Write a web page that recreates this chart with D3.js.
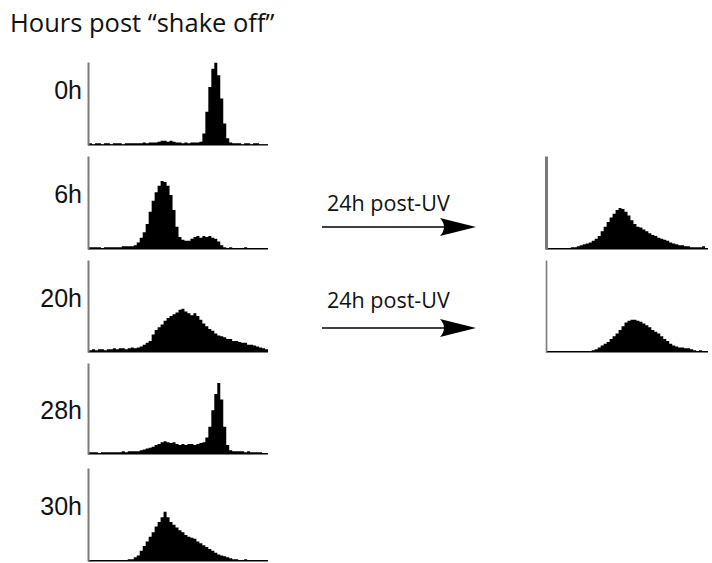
<!DOCTYPE html>
<html>
<head>
<meta charset="utf-8">
<script src="https://cdn.jsdelivr.net/npm/d3@7/dist/d3.min.js"></script>
<style>
  html, body { margin: 0; padding: 0; background: #fff; }
  svg { display: block; }
</style>
</head>
<body>
<svg id="chart" width="712" height="563"></svg>
<script>
// ---- Data (percent of panel height per channel bin) ----
const title = "Hours post \u201Cshake off\u201D";
const timeLabels = ["0h", "6h", "20h", "28h", "30h"];
const arrowLabel = "24h post-UV";

const h0 = [2,1,2,2,1,2,2,1,2,2,2,1,2,2,2,2,2,2,3,2,
            3,3,3,4,5,5,4,5,4,3,3,2,3,2,3,3,3,
            4,14,40,70,92,99,84,56,26,8,3,
            2,2,2,1,2,2,1,2,2,1,1,1];
const h6 = [2,2,2,2,1,2,2,2,2,2,2,3,3,3,3,4,7,12,18,27,
            40,52,61,68,73,72,68,58,42,24,13,10,9,9,11,13,14,12,14,13,
            14,12,11,8,4,2,1,2,1,1,1,1,2,1,1,1,1,1,1,1];
const h20 = [2,3,2,3,3,2,3,3,4,3,4,4,3,4,5,4,5,6,8,10,
             12,19,24,27,30,34,37,39,41,43,46,47,44,42,40,42,39,35,31,28,
             25,23,20,18,17,16,14,14,12,12,11,10,10,8,8,7,6,5,4,3];
const h28 = [2,2,2,1,2,2,2,2,2,2,2,3,2,3,3,3,3,4,5,6,
             7,8,10,11,13,14,13,12,13,11,10,11,10,11,11,10,11,12,13,18,
             30,48,66,78,60,30,10,4,3,3,3,3,2,3,2,2,2,2,1,1];
const h30 = [1,1,1,1,1,1,1,1,1,1,1,1,1,2,2,4,6,11,16,21,
             26,31,37,42,47,53,47,42,39,36,33,31,28,26,25,24,21,19,17,15,
             13,11,9,7,6,5,4,3,2,2,1,1,2,1,1,1,1,1,1,1];
const uv6 = [1,1,1,1,1,1,1,1,2,2,3,4,5,6,7,9,11,14,19,24,
             29,34,38,42,44,43,40,36,31,27,24,23,21,19,17,15,14,12,11,10,
             9,7,6,5,4,4,3,3,2,2,2,2,3,1];
const uv20 = [1,1,1,1,1,1,1,1,1,1,1,1,1,1,1,2,3,5,7,9,
              11,14,17,20,24,28,32,34,35,35,34,33,31,29,27,24,22,20,17,14,
              12,9,7,6,5,5,4,4,3,2,1,2,1,1];

// ---- Layout ----
const svg = d3.select("#chart");

const panels = [
  {data: h0,  x0: 88,  w: 180, top: 62,  base: 145, label: timeLabels[0], ly: 99,  axisW: 2},
  {data: h6,  x0: 88,  w: 180, top: 156, base: 249, label: timeLabels[1], ly: 203, axisW: 2},
  {data: h20, x0: 88,  w: 180, top: 260, base: 352, label: timeLabels[2], ly: 307, axisW: 2},
  {data: h28, x0: 88,  w: 180, top: 363, base: 454, label: timeLabels[3], ly: 419, axisW: 2},
  {data: h30, x0: 88,  w: 180, top: 468, base: 561, label: timeLabels[4], ly: 515, axisW: 2},
  {data: uv6, x0: 546, w: 162, top: 156, base: 249, label: null, axisW: 3},
  {data: uv20,x0: 546, w: 162, top: 260, base: 352, label: null, axisW: 1.6}
];

panels.forEach(p => {
  const n = p.data.length;
  const x = d3.scaleLinear().domain([0, n]).range([p.x0 + 1, p.x0 + p.w]);
  const y = d3.scaleLinear().domain([0, 100]).range([p.base, p.top]);
  const g = svg.append("g");

  const pts = p.data.map((v, i) => [i, v]).concat([[n, p.data[n - 1]]]);
  const area = d3.area()
    .x(d => x(d[0]))
    .y0(y(0))
    .y1(d => y(d[1]))
    .curve(d3.curveStepAfter);
  g.append("path").attr("d", area(pts)).attr("fill", "#000");

  // baseline
  g.append("line")
    .attr("x1", p.x0).attr("x2", p.x0 + p.w)
    .attr("y1", p.base).attr("y2", p.base)
    .attr("stroke", "#000").attr("stroke-width", 1.2);

  // left axis
  const yAxis = d3.axisLeft(y).tickValues([]).tickSizeOuter(0);
  const ag = g.append("g").attr("transform", `translate(${p.x0},0)`).call(yAxis);
  ag.select(".domain").attr("stroke", "#7a7a7a").attr("stroke-width", p.axisW);

  if (p.label) {
    g.append("text")
      .attr("x", 82).attr("y", p.ly)
      .attr("text-anchor", "end")
      .attr("font-family", "Liberation Sans, Arial, sans-serif")
      .attr("font-size", 25)
      .attr("fill", "#111")
      .text(p.label);
  }
});

// Title
svg.append("text")
  .attr("x", 10).attr("y", 32)
  .attr("font-family", "Open Sans, sans-serif")
  .attr("font-size", 25.5)
  .attr("fill", "#111")
  .text(title);

// Arrows
const arrows = [{ty: 211, ay: 227}, {ty: 308, ay: 328}];
arrows.forEach(a => {
  svg.append("text")
    .attr("x", 327).attr("y", a.ty)
    .attr("font-family", "Open Sans, sans-serif")
    .attr("font-size", 21.5)
    .attr("fill", "#111")
    .text(arrowLabel);
  svg.append("line")
    .attr("x1", 322).attr("x2", 450)
    .attr("y1", a.ay).attr("y2", a.ay)
    .attr("stroke", "#000").attr("stroke-width", 1.6);
  const tip = 476;
  svg.append("path")
    .attr("d", `M${tip},${a.ay} L${tip-36},${a.ay-9} Q${tip-28},${a.ay} ${tip-36},${a.ay+9} Z`)
    .attr("fill", "#000");
});
</script>
</body>
</html>
